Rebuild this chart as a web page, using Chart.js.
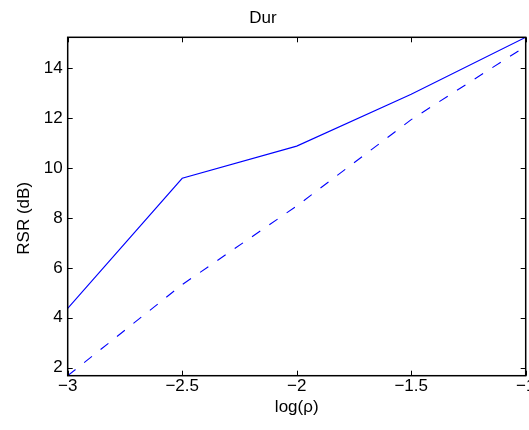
<!DOCTYPE html>
<html>
<head>
<meta charset="utf-8">
<script src="https://cdn.jsdelivr.net/npm/chart.js@4.4.0/dist/chart.umd.min.js"></script>
<style>
  html, body { margin: 0; padding: 0; background: #fff; }
</style>
</head>
<body>
<canvas id="plot" width="529" height="430"></canvas>
<script>
// data
const logRho = [-3, -2.5, -2, -1.5, -1];
const rsrSolid = [4.38, 9.59, 10.88, 12.96, 15.24];
const rsrDashed = [1.68, 5.33, 8.48, 11.94, 14.88];
const xTicks = [-3, -2.5, -2, -1.5, -1];
const yTicks = [2, 4, 6, 8, 10, 12, 14];

const font = { family: "'Liberation Sans', Arial, sans-serif", size: 17, weight: 'normal' };
const minus = v => String(v).replace('-', '\u2212');

// matlab style box with inward ticks
const boxTicks = {
  id: 'boxTicks',
  afterDraw(chart) {
    const ctx = chart.ctx;
    const { left, right, top, bottom } = chart.chartArea;
    const x = chart.scales.x, y = chart.scales.y;
    const len = 5;
    ctx.save();
    ctx.strokeStyle = '#000';
    ctx.lineWidth = 1;
    ctx.beginPath();
    xTicks.forEach(v => {
      const px = Math.round(x.getPixelForValue(v)) + 0.5;
      ctx.moveTo(px, bottom); ctx.lineTo(px, bottom - len);
      ctx.moveTo(px, top); ctx.lineTo(px, top + len);
    });
    yTicks.forEach(v => {
      const py = Math.round(y.getPixelForValue(v)) + 0.5;
      ctx.moveTo(left, py); ctx.lineTo(left + len, py);
      ctx.moveTo(right, py); ctx.lineTo(right - len, py);
    });
    ctx.stroke();
    ctx.lineWidth = 1.5;
    ctx.strokeRect(left, top, right - left, bottom - top);
    ctx.restore();
  }
};

new Chart(document.getElementById('plot'), {
  type: 'line',
  data: {
    datasets: [{
      data: logRho.map((v, i) => ({ x: v, y: rsrSolid[i] })),
      borderColor: '#0000ff',
      borderWidth: 1.1,
      pointRadius: 0,
      tension: 0
    }, {
      data: logRho.map((v, i) => ({ x: v, y: rsrDashed[i] })),
      borderColor: '#0000ff',
      borderWidth: 1.1,
      borderDash: [10, 11],
      pointRadius: 0,
      tension: 0
    }]
  },
  options: {
    responsive: false,
    animation: false,
    events: [],
    layout: { padding: { left: 0, right: 3.3, top: 0, bottom: 0 } },
    plugins: {
      legend: { display: false },
      tooltip: { enabled: false },
      title: {
        display: true,
        text: 'Dur',
        color: '#000',
        font: font,
        padding: { top: 8.1, bottom: 8.8 }
      }
    },
    scales: {
      x: {
        type: 'linear',
        min: -3,
        max: -1,
        afterBuildTicks: s => { s.ticks = xTicks.map(v => ({ value: v })); },
        afterFit: s => { s.height = 54.3; s.paddingLeft = 0; s.paddingRight = 0; },
        grid: { display: false, drawTicks: false },
        border: { display: false },
        ticks: { color: '#000', font: font, padding: 0, maxRotation: 0, autoSkip: false, callback: minus },
        title: { display: true, text: 'log(ρ)', color: '#000', font: font, padding: { top: 0, bottom: 12.8 } }
      },
      y: {
        type: 'linear',
        min: 1.68,
        max: 15.24,
        afterBuildTicks: s => { s.ticks = yTicks.map(v => ({ value: v })); },
        afterFit: s => { s.width = 67.7; s.paddingTop = 0; s.paddingBottom = 0; },
        grid: { display: false, drawTicks: false },
        border: { display: false },
        ticks: { color: '#000', font: font, padding: 5, autoSkip: false, callback: minus },
        // trailing spaces push the label down a bit, like the original
        title: { display: true, text: 'RSR (dB)     ', color: '#000', font: font, padding: { top: 14, bottom: 0 } }
      }
    }
  },
  plugins: [boxTicks]
});
</script>
</body>
</html>
